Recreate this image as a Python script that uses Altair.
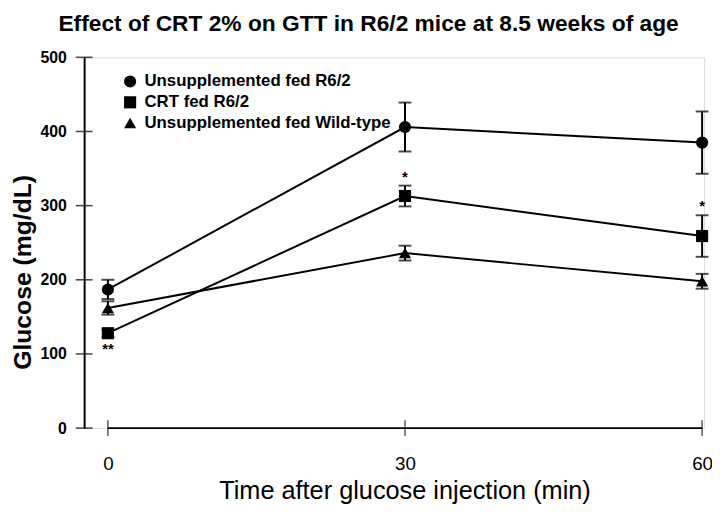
import altair as alt
import pandas as pd

times = [0, 30, 60]
groups = ["Unsupplemented fed R6/2", "CRT fed R6/2", "Unsupplemented fed Wild-type"]
shapes = ["circle", "square", "triangle-up"]

unsup_r62_mean = [187, 406, 385]
unsup_r62_err = [13, 33, 42]
crt_r62_mean = [128, 313, 259]
crt_r62_err = [5, 14, 28]
wt_mean = [162, 236, 198]
wt_err = [9, 10, 10]

star_times = [0, 30, 60]
star_values = [107, 338, 299]
star_labels = ["**", "*", "*"]

y_ticks = [0, 100, 200, 300, 400, 500]
x_ticks = [0, 30, 60]

rows = []
for g, means, errs in [(groups[0], unsup_r62_mean, unsup_r62_err),
                       (groups[1], crt_r62_mean, crt_r62_err),
                       (groups[2], wt_mean, wt_err)]:
    for t, m, e in zip(times, means, errs):
        rows.append({"time": t, "group": g, "mean": m, "lo": m - e, "hi": m + e})
df = pd.DataFrame(rows)
stars = pd.DataFrame({"time": star_times, "value": star_values, "label": star_labels})
yt = pd.DataFrame({"v": y_ticks})
xt = pd.DataFrame({"t": x_ticks})
xline = pd.DataFrame({"t0": [x_ticks[0]], "t1": [x_ticks[-1]], "y": [0]})

W, H = 627, 375
xs = alt.Scale(domain=[-2.4, 60.2], nice=False, zero=False)
ys = alt.Scale(domain=[0, 500], nice=False)

FONT = "Liberation Sans"

x_axis = alt.Axis(values=x_ticks, domain=False, ticks=False, grid=False,
                  labelFont=FONT, labelFontSize=19,
                  labelColor="black", labelPadding=27, labelFlush=False,
                  title="Time after glucose injection (min)",
                  titleFont=FONT, titleFontSize=25.6,
                  titleFontWeight="normal", titleColor="black",
                  titleX=324, titleY=71, titleBaseline="alphabetic")
y_axis = alt.Axis(values=y_ticks, domain=True, domainColor="black", domainWidth=2,
                  ticks=False, grid=False,
                  labelFont=FONT, labelFontSize=16, labelFontWeight="bold",
                  labelColor="black", labelPadding=18,
                  title="Glucose (mg/dL)", titleFont=FONT,
                  titleFontSize=25, titleFontWeight="bold", titleColor="black",
                  titleX=-62, titleY=217, titleAlign="center", titleBaseline="middle",
                  titleAngle=270)

base = alt.Chart(df)

lines = base.mark_line(color="black", strokeWidth=2).encode(
    x=alt.X("time:Q", scale=xs, axis=x_axis),
    y=alt.Y("mean:Q", scale=ys, axis=y_axis),
    detail="group:N",
)
bars = base.mark_rule(color="black", strokeWidth=2).encode(
    x=alt.X("time:Q", scale=xs), y=alt.Y("lo:Q", scale=ys), y2="hi:Q")
cap_lo = base.mark_tick(color="black", orient="horizontal", size=13, thickness=2).encode(
    x=alt.X("time:Q", scale=xs), y=alt.Y("lo:Q", scale=ys))
cap_hi = base.mark_tick(color="black", orient="horizontal", size=13, thickness=2).encode(
    x=alt.X("time:Q", scale=xs), y=alt.Y("hi:Q", scale=ys))
points = base.mark_point(filled=True, color="black", opacity=1, size=150).encode(
    x=alt.X("time:Q", scale=xs), y=alt.Y("mean:Q", scale=ys),
    shape=alt.Shape("group:N", scale=alt.Scale(domain=groups, range=shapes),
                    legend=alt.Legend(title=None, orient="none", legendX=38, legendY=16,
                                      labelFont=FONT, labelFontSize=17,
                                      labelFontWeight="bold", labelColor="black",
                                      labelLimit=0,
                                      symbolFillColor="black", symbolStrokeColor="black",
                                      symbolSize=150, symbolOpacity=1, rowPadding=2,
                                      labelOffset=6)),
)
star_text = alt.Chart(stars).mark_text(font=FONT, fontWeight="bold",
                                        fontSize=15, color="black", baseline="middle").encode(
    x=alt.X("time:Q", scale=xs), y=alt.Y("value:Q", scale=ys), text="label:N")

ytick_marks = alt.Chart(yt).mark_tick(color="black", orient="horizontal", size=17, thickness=1.6).encode(
    x=alt.value(0), y=alt.Y("v:Q", scale=ys))
xaxis_line = alt.Chart(xline).mark_rule(color="black", strokeWidth=1.6).encode(
    x=alt.X("t0:Q", scale=xs), x2="t1:Q", y=alt.Y("y:Q", scale=ys))
xtick_marks = alt.Chart(xt).mark_tick(color="black", orient="vertical", size=16, thickness=1.4).encode(
    x=alt.X("t:Q", scale=xs), y=alt.value(H))

chart = alt.layer(
    lines, bars, cap_lo, cap_hi, points, star_text, ytick_marks, xaxis_line, xtick_marks
).properties(
    width=W, height=H,
    autosize=alt.AutoSizeParams(type="none"),
    padding={"left": 77, "top": 47, "right": 8, "bottom": 86},
    title=alt.TitleParams(
        "Effect of CRT 2% on GTT in R6/2 mice at 8.5 weeks of age",
        font=FONT, fontSize=23, fontWeight="bold", color="black",
        anchor="start", frame="group", dx=-26, offset=14),
).configure_view(stroke=None).configure(background="white")

chart.save("out.html", embed_options={"renderer": "svg", "actions": False})
